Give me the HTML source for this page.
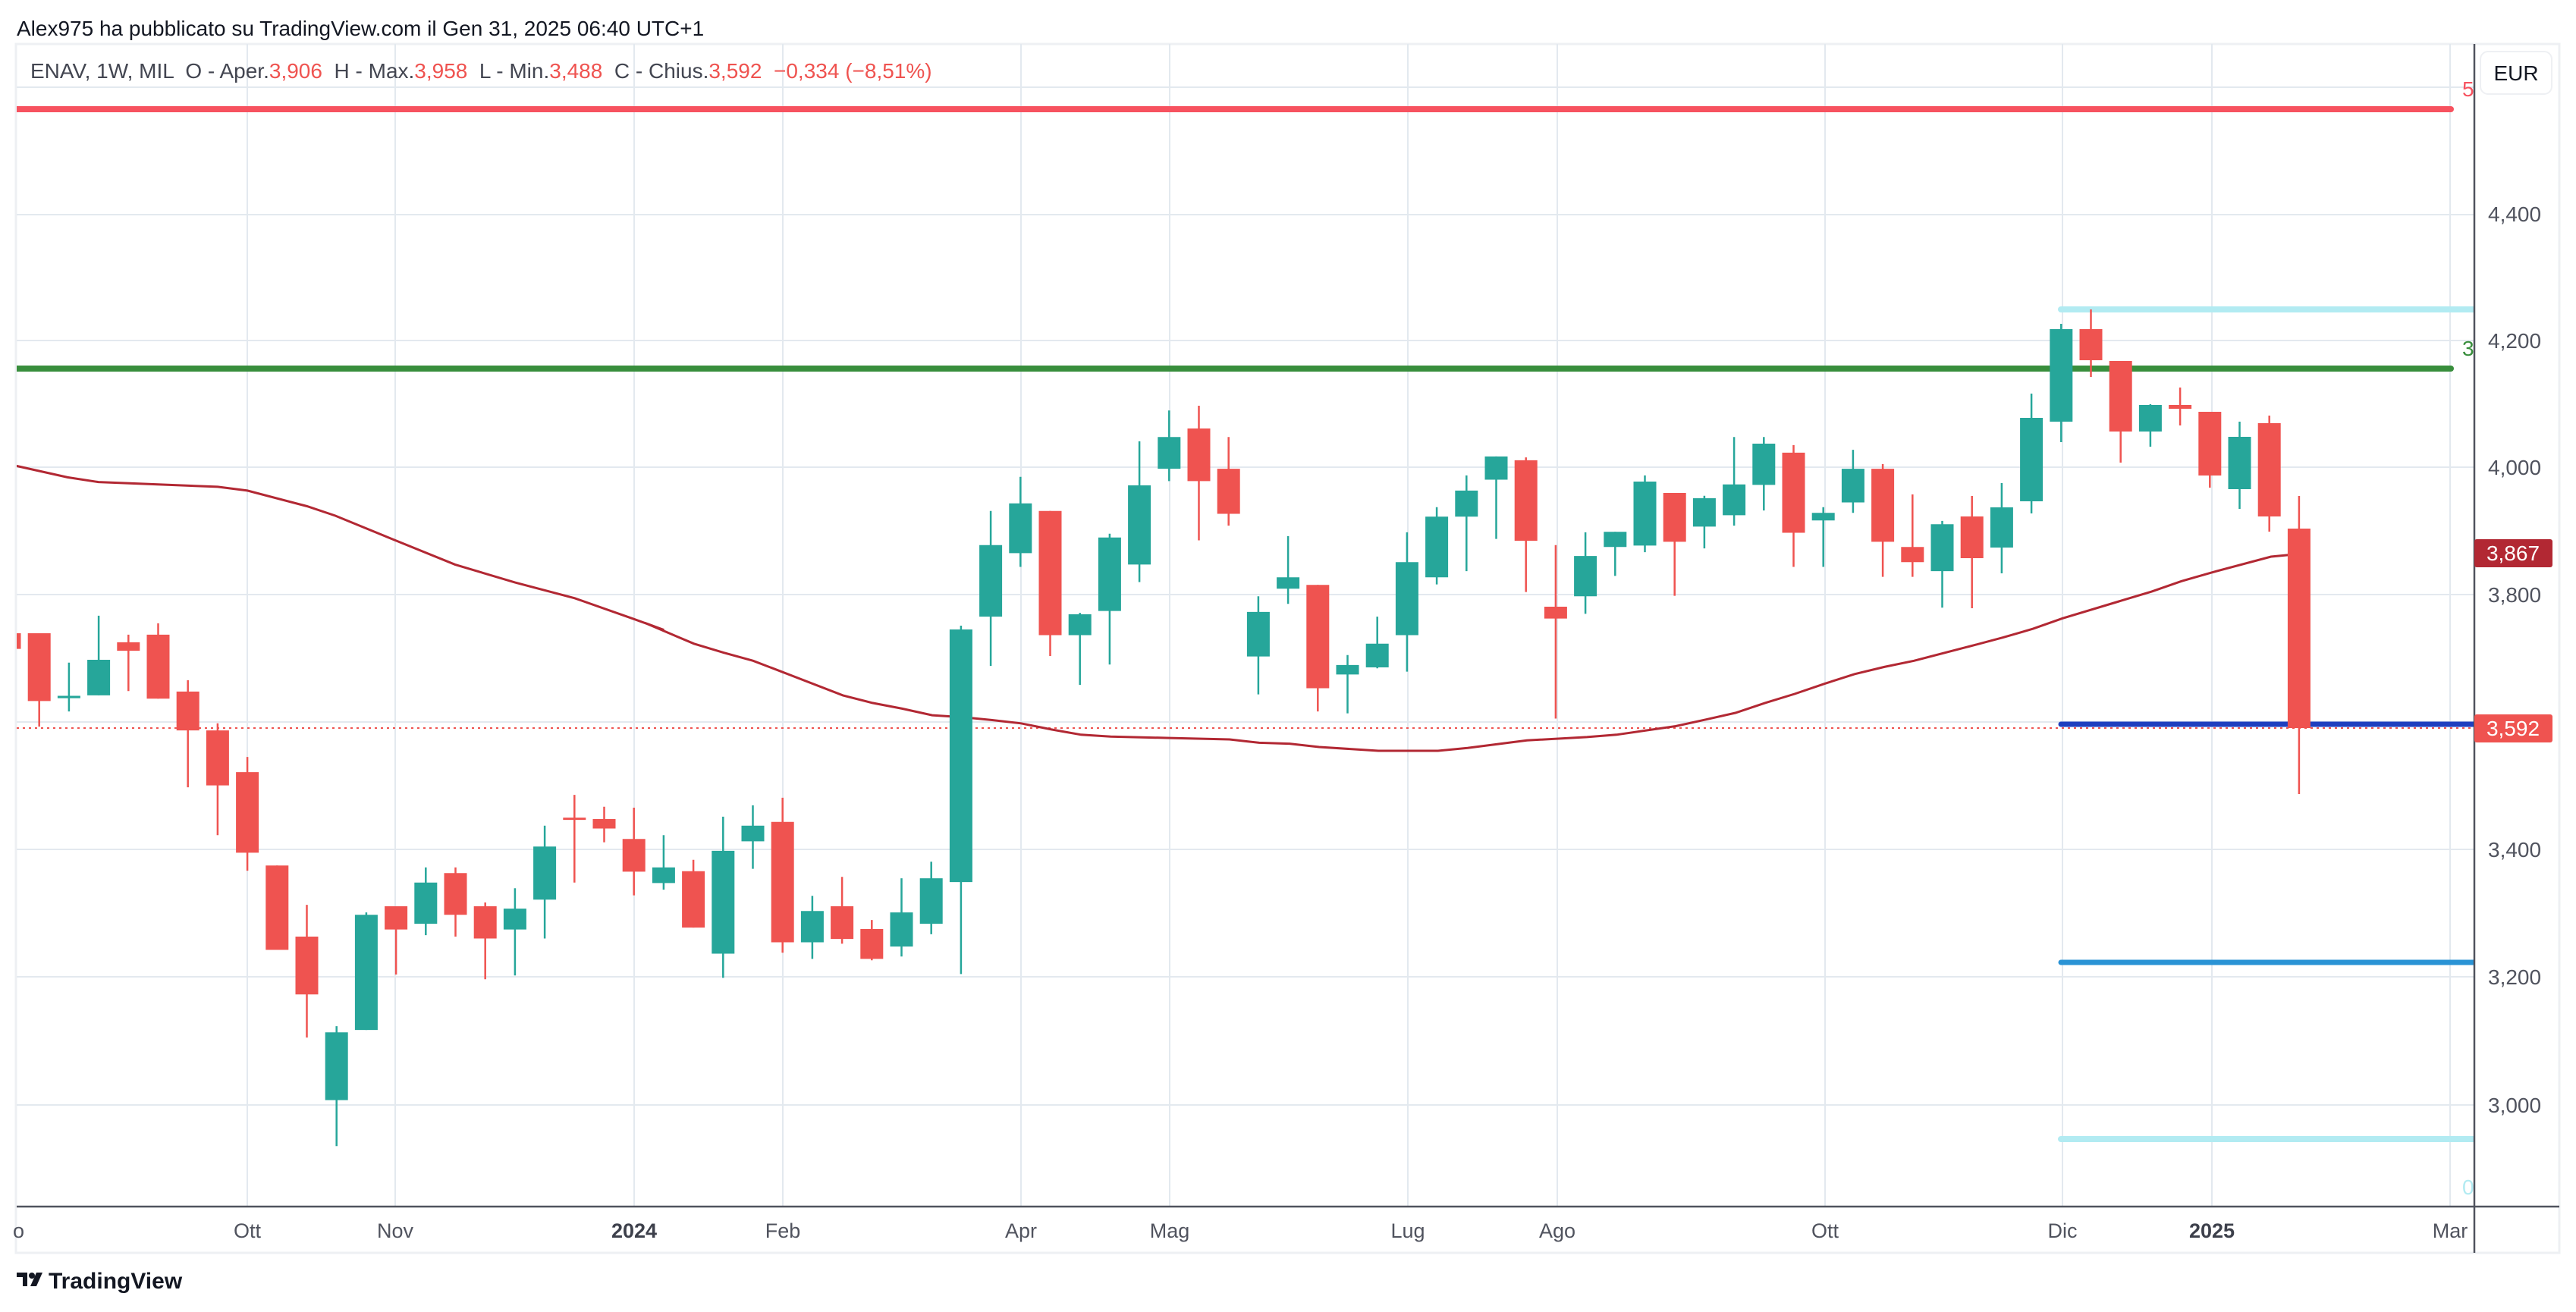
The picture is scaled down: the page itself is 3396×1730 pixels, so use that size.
<!DOCTYPE html>
<html><head><meta charset="utf-8"><style>
html,body{margin:0;padding:0;background:#fff;}
svg{display:block;font-family:"Liberation Sans",Arial,sans-serif;}
</style></head><body>
<svg id="c" width="3396" height="1730" viewBox="0 0 3396 1730" xmlns="http://www.w3.org/2000/svg">
<defs><clipPath id="pane"><rect x="22" y="58" width="3240" height="1533"/></clipPath>
<clipPath id="tax"><rect x="18" y="1592" width="3244" height="60"/></clipPath></defs>
<rect x="0" y="0" width="3396" height="1730" fill="#fff"/>
<text x="22" y="47" font-size="28" fill="#131722">Alex975 ha pubblicato su TradingView.com il Gen 31, 2025 06:40 UTC+1</text>
<rect x="21" y="58" width="3353" height="1594" fill="none" stroke="#eef0f3" stroke-width="3"/>
<g id="grid" stroke="#e3e9ef" stroke-width="2"></g>
<g id="lv" clip-path="url(#pane)"></g>
<g id="cd" clip-path="url(#pane)"></g>
<text x="40" y="103" font-size="28" fill="#434651" xml:space="preserve" style="white-space:pre">ENAV, 1W, MIL  O - Aper.<tspan fill="#ef5350">3,906</tspan>  H - Max.<tspan fill="#ef5350">3,958</tspan>  L - Min.<tspan fill="#ef5350">3,488</tspan>  C - Chius.<tspan fill="#ef5350">3,592</tspan>  <tspan fill="#ef5350">−0,334 (−8,51%)</tspan></text>
<line x1="3262" y1="58" x2="3262" y2="1652" stroke="#50535e" stroke-width="2.5"/>
<line x1="22" y1="1591" x2="3374" y2="1591" stroke="#50535e" stroke-width="2.5"/>
<rect x="3270" y="68" width="94" height="56" rx="10" fill="#fff" stroke="#eef0f3" stroke-width="2"/>
<text x="3317" y="106" font-size="28" fill="#131722" text-anchor="middle">EUR</text>
<g font-size="28" fill="#50535e">
<text x="3280" y="292">4,400</text><text x="3280" y="459">4,200</text><text x="3280" y="626">4,000</text>
<text x="3280" y="794">3,800</text><text x="3280" y="1130">3,400</text><text x="3280" y="1298">3,200</text><text x="3280" y="1467">3,000</text>
</g>
<text x="3246" y="127" font-size="28" fill="#f7525f">5</text>
<text x="3246" y="469" font-size="28" fill="#388e3c">3</text>
<text x="3246" y="1575" font-size="28" fill="#b2ebf2">0</text>
<rect x="3262" y="711" width="103" height="37" rx="3" fill="#b22833"/>
<text x="3313" y="739" font-size="28" fill="#fff" text-anchor="middle">3,867</text>
<rect x="3262" y="942" width="103" height="37" rx="3" fill="#ef5350"/>
<text x="3313" y="970" font-size="28" fill="#fff" text-anchor="middle">3,592</text>
<g font-size="27" fill="#50535e" text-anchor="middle" clip-path="url(#tax)">
<text x="8" y="1632">Ago</text><text x="326" y="1632">Ott</text><text x="521" y="1632">Nov</text>
<text x="836" y="1632" font-weight="bold" fill="#3d404b">2024</text><text x="1032" y="1632">Feb</text>
<text x="1346" y="1632">Apr</text><text x="1542" y="1632">Mag</text><text x="1856" y="1632">Lug</text>
<text x="2053" y="1632">Ago</text><text x="2406" y="1632">Ott</text><text x="2719" y="1632">Dic</text>
<text x="2916" y="1632" font-weight="bold" fill="#3d404b">2025</text><text x="3230" y="1632">Mar</text>
</g>
<g transform="translate(22,1678)">
<path d="M0 0h14v18h-6v-12h-8z" fill="#131722"/><circle cx="20" cy="4" r="4" fill="#131722"/><path d="M18 18l8-18h8l-8 18z" fill="#131722"/>
<text x="42" y="21" font-size="30" font-weight="bold" fill="#131722">TradingView</text>
</g>
</svg>
<script>
var NS="http://www.w3.org/2000/svg";
function el(p,t,a){var e=document.createElementNS(NS,t);for(var k in a)e.setAttribute(k,a[k]);p.appendChild(e);return e;}
var g=document.getElementById('grid');
[115,283,449,616,784,952,1120,1288,1457].forEach(function(y){el(g,'line',{x1:22,y1:y,x2:3262,y2:y});});
[326,521,836,1032,1346,1542,1856,2053,2406,2719,2916,3230].forEach(function(x){el(g,'line',{x1:x,y1:58,x2:x,y2:1591});});
var lv=document.getElementById('lv');
el(lv,'line',{x1:22,y1:144,x2:3231,y2:144,stroke:'#f7525f','stroke-width':8,'stroke-linecap':'round'});
el(lv,'line',{x1:22,y1:486,x2:3231,y2:486,stroke:'#388e3c','stroke-width':8,'stroke-linecap':'round'});
el(lv,'line',{x1:2717,y1:408,x2:3262,y2:408,stroke:'#b2ebf2','stroke-width':8,'stroke-linecap':'round'});
el(lv,'line',{x1:2717,y1:1502,x2:3262,y2:1502,stroke:'#b2ebf2','stroke-width':8,'stroke-linecap':'round'});
el(lv,'line',{x1:2717,y1:1269,x2:3262,y2:1269,stroke:'#2a93d5','stroke-width':7,'stroke-linecap':'round'});
el(lv,'line',{x1:22,y1:960,x2:3262,y2:960,stroke:'#ef5350','stroke-width':2,'stroke-dasharray':'3 5'});
el(lv,'line',{x1:2717,y1:955,x2:3262,y2:955,stroke:'#1f3fbf','stroke-width':7,'stroke-linecap':'round'});
var pts=[];
function add(ox,oy,sx,sy,a){a.forEach(function(p){pts.push([ox+p[0]/sx,oy+p[1]/sy]);});}
add(0,560,1.742,1.6,[[38,87],[155,111],[226,121],[500,131],[568,139],[705,172],[770,192],[908,244],[1045,295],[1183,333],[1320,366],[1456,410],[1525,433]]);
add(850,560,1.742,1.6,[[0,418],[113,462],[181,481],[249,498],[317,522],[455,571],[523,587],[591,599],[660,613],[728,617],[796,623],[864,630],[934,643],[1002,654],[1070,658],[1206,661],[1343,664],[1411,671],[1479,673]]);
add(1700,400,1.742,1.6,[[0,929],[68,936],[204,944],[341,944],[409,938],[545,922],[683,915],[751,910],[887,892],[956,878],[1024,864],[1092,843],[1160,824],[1230,802],[1298,782],[1366,767],[1434,754],[1568,722]]);
add(2600,600,1.97,1.388,[[0,349],[80,334],[158,318],[234,299],[390,266],[466,250],[543,231],[622,215],[776,186],[822,183]]);
var cd=document.getElementById('cd');
el(cd,'polyline',{points:pts.map(function(p){return p[0].toFixed(1)+','+p[1].toFixed(1);}).join(' '),fill:'none',stroke:'#b22833','stroke-width':3});
var C=[];
function z(oy,sy,a){a.forEach(function(c){C.push([oy+c[0]/sy,oy+c[1]/sy,oy+c[2]/sy,oy+c[3]/sy,c[4]]);});}
z(560,1.6,[[440,473,440,473,'r'],[440,583,440,637,'r'],[572,577,502,605,'g'],[496,571,403,571,'g'],[459,477,443,562,'r'],[443,578,419,578,'r'],[563,645,539,765,'r'],[645,761,630,866,'r'],[733,903,701,941,'r'],[930,1108,930,1108,'r'],[1080,1202,1013,1293,'r'],[1282,1425,1269,1522,'g'],[1034,1277,1029,1277,'g'],[1016,1065,1016,1160,'r'],[966,1053,934,1077,'g'],[946,1034,934,1080,'r'],[1016,1084,1008,1170,'r'],[1021,1065,978,1162,'g'],[890,1002,846,1084,'g'],[829,833,781,966,'r'],[832,852,806,881,'r'],[874,943,808,993,'r'],[934,967,866,981,'g'],
[942,1061,918,1061,'r'],[899,1116,827,1167,'g'],[846,879,803,937,'g'],[838,1092,787,1114,'r'],[1026,1092,994,1127,'g'],[1016,1085,954,1095,'r'],[1064,1127,1045,1130,'r'],[1029,1101,957,1122,'g'],[957,1053,922,1075,'g'],[432,965,424,1159,'g'],[254,405,182,509,'g'],[166,271,110,300,'g'],[182,444,182,488,'r'],[400,444,397,549,'g'],[238,393,230,506,'g'],[128,295,35,332,'g'],[26,93,-30,119,'g'],[8,119,-40,244,'r'],[93,188,26,213,'r'],[395,489,362,569,'g'],[322,346,235,378,'g']]);
z(400,1.6,[[594,812,594,861,'r'],[763,783,742,865,'g'],[718,768,661,770,'g'],[546,700,483,777,'g'],[450,578,430,593,'g'],[395,450,363,565,'g'],[323,372,323,497,'g'],[331,501,325,609,'r'],[640,665,510,876,'r'],[533,618,483,655,'g'],[482,514,482,575,'g'],[376,511,363,525,'g'],[400,503,400,617,'r'],[411,471,406,517,'g'],[382,447,282,469,'g'],[296,383,282,437,'g'],[315,484,299,556,'r'],[442,458,430,556,'g'],[349,420,309,442,'g'],[349,503,339,577,'r'],[514,546,403,577,'r'],[466,565,459,642,'g']]);
C.push([681,736,654,802,'r'],[669,722,637,756,'g'],[551,661,519,677,'g'],[434,556,427,583,'g'],[434,475,408,497,'r'],[476,569,476,610,'r'],[534,569,533,589,'g'],[534,539,511,561,'r'],[543,627,543,643,'r'],[576,645,556,671,'g'],[558,681,548,701,'r'],[697,960,654,1047,'r']);
C.forEach(function(c,i){
 var x=12.5+39.2*i, col=c[4]=='r'?'#ef5350':'#26a69a';
 el(cd,'rect',{x:x-1.25,y:c[2],width:2.5,height:Math.max(1,c[3]-c[2]),fill:col});
 el(cd,'rect',{x:x-15,y:c[0],width:30,height:Math.max(3,c[1]-c[0]),fill:col});
});
</script>
</body></html>
